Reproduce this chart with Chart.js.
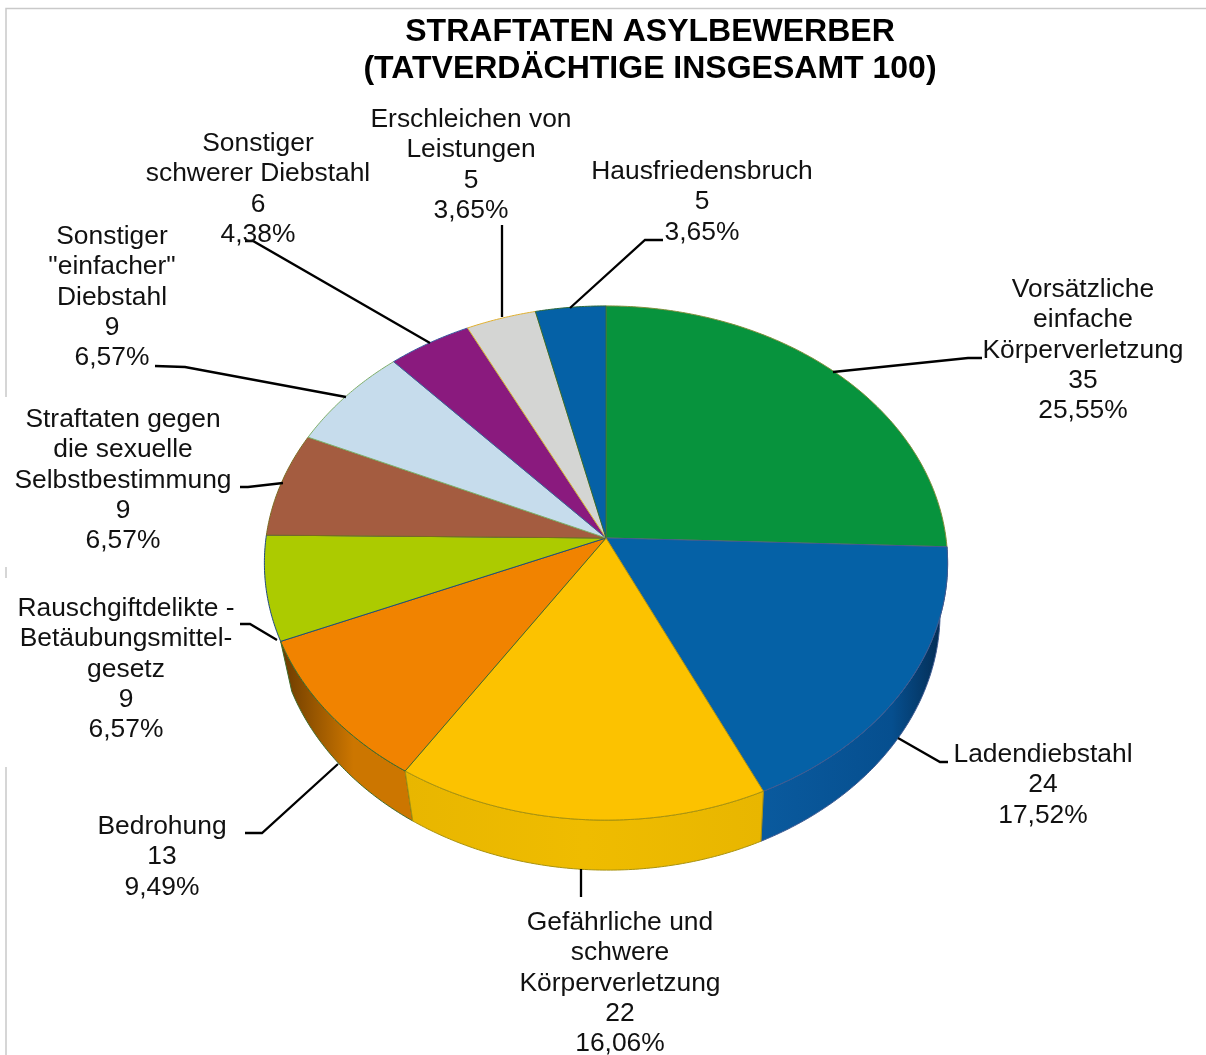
<!DOCTYPE html>
<html>
<head>
<meta charset="utf-8">
<style>
  html, body { margin: 0; background: #fff; }
  canvas { display: block; }
</style>
<script src="https://cdn.jsdelivr.net/npm/chart.js@4/dist/chart.umd.js"></script>
</head>
<body>
<canvas id="chart" width="1206" height="1055"></canvas>
<script>
const categories = [
  'Vorsätzliche\neinfache\nKörperverletzung',
  'Ladendiebstahl',
  'Gefährliche und\nschwere\nKörperverletzung',
  'Bedrohung',
  'Rauschgiftdelikte -\nBetäubungsmittel-\ngesetz',
  'Straftaten gegen\ndie sexuelle\nSelbstbestimmung',
  'Sonstiger\n"einfacher"\nDiebstahl',
  'Sonstiger\nschwerer Diebstahl',
  'Erschleichen von\nLeistungen',
  'Hausfriedensbruch'
];
const values = [35, 24, 22, 13, 9, 9, 9, 6, 5, 5];
const titleLines = ['STRAFTATEN ASYLBEWERBER', '(TATVERDÄCHTIGE INSGESAMT 100)'];

const sliceColors = ['#07933d', '#0561a6', '#fcc200', '#f18300', '#accb00', '#a45c40', '#c6dcec', '#8a1a7e', '#d4d5d3', '#0561a6'];
const edgeColors = ['#7f8f3a', '#3f5a90', '#a8920f', '#3f6a2a', '#1f4a80', '#7a6a20', '#7fae6a', '#3a5aa0', '#e0b030', '#2f6a3a'];
// left and right colour of the visible side wall
const sideColors = {
  1: ['#064f8f', '#04294d', 0.7],
  2: ['#e8b600', '#e8b600', 0.5],
  3: ['#6a3a00', '#cc7600', 0.55]
};

// where the labels and their leader lines sit: [centre x, first line y]
const labelPos = [[1083, 290], [1043, 755], [620, 923], [162, 827], [126, 609], [123, 420], [112, 237], [258, 144], [471, 120], [702, 172]];
const leaders = [
  [[833, 372], [968, 358], [982, 358]],
  [[898, 738], [940, 762], [948, 762]],
  [[581, 869], [581, 897]],
  [[338, 764], [262, 833], [245, 833]],
  [[277, 640], [250, 624], [240, 624]],
  [[283, 483], [248, 487], [240, 487]],
  [[346, 397], [185, 367], [155, 366]],
  [[430, 343], [253, 241], [245, 241]],
  [[502, 317], [502, 225]],
  [[570, 308], [645, 240], [663, 240]]
];

const PERSPECTIVE = 0.0973;
const SQUASH = 0.749;
const DEPTH = 50;
const total = values.reduce((a, b) => a + b, 0);

function project(arc, angle) {
  const u = Math.cos(angle), v = Math.sin(angle);
  const w = 1 - PERSPECTIVE * v;
  return [arc.x + arc.outerRadius * u / w, arc.y + arc.outerRadius * SQUASH * v / w];
}

function rim(arc, from, to) {
  const pts = [];
  const steps = Math.max(2, Math.ceil((to - from) / 0.01));
  for (let i = 0; i <= steps; i++) {
    pts.push(project(arc, from + (to - from) * i / steps));
  }
  return pts;
}

function drawSide(ctx, arc, i) {
  const from = Math.max(arc.startAngle, 0);
  const to = Math.min(arc.endAngle, Math.PI);
  if (to <= from) return;
  const top = rim(arc, from, to);
  const bottom = top.map(p => [arc.x + 2 + (p[0] - arc.x) * 0.972, p[1] + DEPTH]);
  const xs = top.concat(bottom).map(p => p[0]);
  const grad = ctx.createLinearGradient(Math.min(...xs), 0, Math.max(...xs), 0);
  const [left, right, stop] = sideColors[i];
  if (i === 1) {
    grad.addColorStop(0, '#0a5a9e');
    grad.addColorStop(stop, left);
    grad.addColorStop(1, right);
  } else if (i === 2) {
    grad.addColorStop(0, left);
    grad.addColorStop(stop, '#efbc00');
    grad.addColorStop(1, right);
  } else {
    grad.addColorStop(0, left);
    grad.addColorStop(stop, right);
    grad.addColorStop(1, right);
  }
  ctx.beginPath();
  top.forEach((p, n) => n ? ctx.lineTo(p[0], p[1]) : ctx.moveTo(p[0], p[1]));
  bottom.reverse().forEach(p => ctx.lineTo(p[0], p[1]));
  ctx.closePath();
  ctx.fillStyle = grad;
  ctx.fill();
  ctx.strokeStyle = edgeColors[i];
  ctx.lineWidth = 1;
  ctx.stroke();
}

function drawTop(ctx, arc, i) {
  ctx.beginPath();
  ctx.moveTo(arc.x, arc.y);
  rim(arc, arc.startAngle, arc.endAngle).forEach(p => ctx.lineTo(p[0], p[1]));
  ctx.closePath();
  ctx.fillStyle = arc.options.backgroundColor;
  ctx.fill();
  ctx.strokeStyle = arc.options.borderColor;
  ctx.lineWidth = 1;
  ctx.stroke();
}

const tiltedPie = {
  id: 'tiltedPie',
  afterLayout(chart) {
    // title sits right of the pie centre
    chart.titleBlock.left += 44;
    chart.titleBlock.right += 44;
  },
  beforeDraw(chart) {
    const ctx = chart.ctx;
    ctx.save();
    ctx.strokeStyle = '#c9c9c9';
    ctx.lineWidth = 1.5;
    ctx.beginPath();
    ctx.moveTo(1206, 8.5);
    ctx.lineTo(6, 8.5);
    ctx.lineTo(6, 397);
    ctx.moveTo(6, 567);
    ctx.lineTo(6, 578);
    ctx.moveTo(6, 767);
    ctx.lineTo(6, 1055);
    ctx.stroke();
    ctx.restore();
  },
  beforeDatasetDraw(chart, args) {
    const ctx = chart.ctx;
    const arcs = chart.getDatasetMeta(args.index).data;
    ctx.save();
    [3, 1, 2].forEach(i => drawSide(ctx, arcs[i], i));
    arcs.forEach((arc, i) => drawTop(ctx, arc, i));
    ctx.restore();
    return false;
  },
  afterDraw(chart) {
    const ctx = chart.ctx;
    ctx.save();
    ctx.strokeStyle = '#000';
    ctx.lineWidth = 2.3;
    leaders.forEach(line => {
      ctx.beginPath();
      line.forEach((p, n) => n ? ctx.lineTo(p[0], p[1]) : ctx.moveTo(p[0], p[1]));
      ctx.stroke();
    });
    ctx.fillStyle = '#111';
    ctx.font = '26.4px "Liberation Sans", Arial, sans-serif';
    ctx.textAlign = 'center';
    ctx.textBaseline = 'middle';
    categories.forEach((name, i) => {
      const pct = (values[i] / total * 100).toFixed(2).replace('.', ',') + '%';
      const lines = name.split('\n').concat([String(values[i]), pct]);
      lines.forEach((text, n) => ctx.fillText(text, labelPos[i][0], labelPos[i][1] + n * 30.2));
    });
    ctx.restore();
  }
};

new Chart(document.getElementById('chart'), {
  type: 'pie',
  data: {
    labels: categories,
    datasets: [{
      data: values,
      backgroundColor: sliceColors,
      borderColor: edgeColors,
      borderWidth: 0
    }]
  },
  options: {
    responsive: false,
    animation: false,
    layout: { padding: { left: 266, right: 260, top: 0, bottom: 177 } },
    plugins: {
      legend: { display: false },
      tooltip: { enabled: false },
      title: {
        display: true,
        text: titleLines,
        color: '#000',
        font: { family: '"Liberation Sans", Arial, sans-serif', size: 32, weight: 'bold', lineHeight: 37 / 32 },
        padding: { top: 13.5, bottom: 110.5 }
      }
    }
  },
  plugins: [tiltedPie]
});
</script>
</body>
</html>
